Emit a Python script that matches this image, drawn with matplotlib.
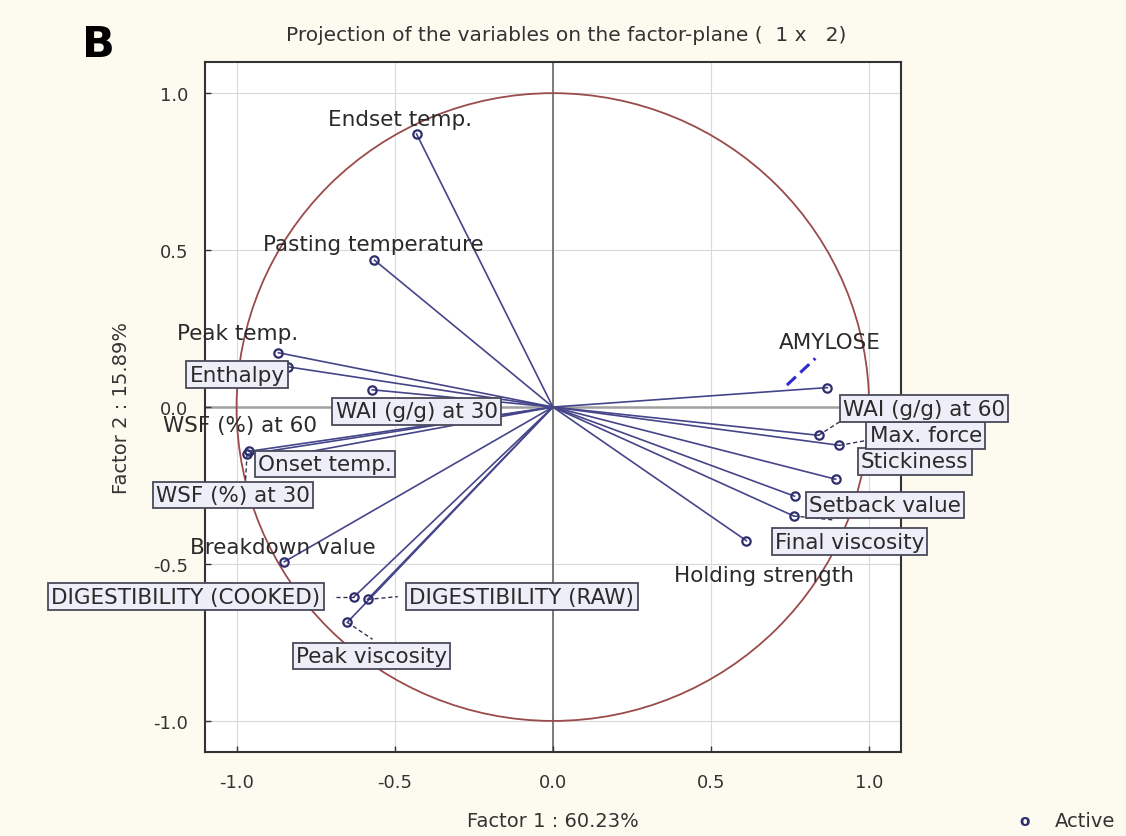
import numpy as np
import matplotlib
matplotlib.use("Agg")
import matplotlib.pyplot as plt
from matplotlib.patches import Circle

plt.rcParams['font.family'] = ['DejaVu Sans']

# ---- data (factor loadings) ----
variables = ["Endset temp.", "Pasting temperature", "Peak temp.", "Enthalpy",
             "WAI (g/g) at 30", "WSF (%) at 60", "WSF (%) at 30", "Onset temp.",
             "Breakdown value", "DIGESTIBILITY (COOKED)", "DIGESTIBILITY (RAW)",
             "Peak viscosity", "Holding strength", "Final viscosity", "Setback value",
             "Stickiness", "Max. force", "WAI (g/g) at 60", "AMYLOSE"]
factor1 = [-0.431, -0.564, -0.868, -0.837, -0.571, -0.960, -0.967, -0.865,
           -0.849, -0.628, -0.586, -0.650, 0.612, 0.761, 0.764, 0.894, 0.906,
           0.840, 0.868]
factor2 = [0.870, 0.468, 0.173, 0.128, 0.055, -0.141, -0.151, -0.160,
           -0.493, -0.604, -0.613, -0.686, -0.426, -0.347, -0.284, -0.230,
           -0.122, -0.090, 0.062]
xticks = [-1.0, -0.5, 0.0, 0.5, 1.0]
yticks = [-1.0, -0.5, 0.0, 0.5, 1.0]
factor1_pct = "60.23%"
factor2_pct = "15.89%"

# ---- label layout (data coords) ----
label_pos = {
    "Endset temp.": (-0.482, 0.918, False),
    "Pasting temperature": (-0.567, 0.521, False),
    "Peak temp.": (-0.998, 0.236, False),
    "Enthalpy": (-0.998, 0.103, True),
    "WAI (g/g) at 30": (-0.431, -0.014, True),
    "WSF (%) at 60": (-0.990, -0.058, False),
    "Onset temp.": (-0.720, -0.182, True),
    "WSF (%) at 30": (-1.011, -0.281, True),
    "Breakdown value": (-0.853, -0.445, False),
    "DIGESTIBILITY (COOKED)": (-1.160, -0.604, True),
    "DIGESTIBILITY (RAW)": (-0.098, -0.604, True),
    "Peak viscosity": (-0.574, -0.794, True),
    "Holding strength": (0.666, -0.534, False),
    "Final viscosity": (0.938, -0.429, True),
    "Setback value": (1.049, -0.312, True),
    "Stickiness": (1.144, -0.173, True),
    "Max. force": (1.179, -0.090, True),
    "WAI (g/g) at 60": (1.173, -0.005, True),
    "AMYLOSE": (0.875, 0.208, False),
}
leaders = {
    "WSF (%) at 30": (-0.972, -0.240),
    "Onset temp.": (-0.893, -0.165),
    "DIGESTIBILITY (COOKED)": (-0.695, -0.604),
    "DIGESTIBILITY (RAW)": (-0.490, -0.604),
    "Peak viscosity": (-0.570, -0.740),
    "Max. force": (1.000, -0.105),
    "WAI (g/g) at 60": (0.910, -0.045),
    "Final viscosity": (0.890, -0.360),
}

fig = plt.figure(figsize=(11.26, 8.37), dpi=100, facecolor='#fdfbef')
ax = fig.add_axes([0.182, 0.100, 0.618, 0.825])
ax.set_facecolor('white')
ax.set_xlim(-1.1, 1.1)
ax.set_ylim(-1.1, 1.1)

# grid
for t in xticks:
    ax.axvline(t, color='#d9d9d9', lw=0.8, zorder=0)
for t in yticks:
    ax.axhline(t, color='#d9d9d9', lw=0.8, zorder=0)
ax.axvline(0, color='#7a7a7a', lw=1.4, zorder=1)
ax.axhline(0, color='#a0a0a0', lw=1.8, zorder=1)

# unit circle
ax.add_patch(Circle((0, 0), 1.0, fill=False, ec='#9a4b4b', lw=1.3, zorder=2))

# vectors
for x, y in zip(factor1, factor2):
    ax.plot([0, x], [0, y], color='#45458a', lw=1.2, zorder=3)
ax.plot(factor1, factor2, 'o', ms=6, mfc='none', mec='#2e2e6e', mew=1.6, zorder=4)

# leaders
for name, (lx, ly) in leaders.items():
    i = variables.index(name)
    ax.plot([factor1[i], lx], [factor2[i], ly], color='#333355', lw=1.0,
            ls=(0, (3, 2)), zorder=3, clip_on=False)
# amylose dashed pointer
ax.plot([0.74, 0.83], [0.07, 0.155], color='#2b2bd0', lw=2.2, ls=(0, (4, 2)), zorder=3)

# labels
FS = 15.5
for name in variables:
    lx, ly, boxed = label_pos[name]
    kw = dict(ha='center', va='center', fontsize=FS, color='#2a2a2a', zorder=6)
    if boxed:
        kw['bbox'] = dict(boxstyle='square,pad=0.15', fc='#eeeef8', ec='#4a4a5a', lw=1.3)
    ax.text(lx, ly, name, **kw)

# ticks
ax.set_xticks(xticks)
ax.set_yticks(yticks)
ax.set_xticklabels([f"{t:.1f}" for t in xticks])
ax.set_yticklabels([f"{t:.1f}" for t in yticks])
ax.tick_params(axis='x', direction='in', length=4, width=1, colors='#333333', labelsize=13,
               labelcolor='#333333', pad=15)
ax.tick_params(axis='y', direction='in', length=4, width=1, colors='#333333', labelsize=13,
               labelcolor='#333333', pad=12)
for s in ax.spines.values():
    s.set_color('#333333')
    s.set_linewidth(1.5)

ax.set_xlabel(f"Factor 1 : {factor1_pct}", fontsize=14, color='#333333', labelpad=14)
ax.set_ylabel(f"Factor 2 : {factor2_pct}", fontsize=14, color='#333333', labelpad=16)

fig.text(0.503, 0.958, "Projection of the variables on the factor-plane (  1 x   2)",
         ha='center', va='center', fontsize=14.5, color='#333333')
fig.text(0.087, 0.946, "B", ha='center', va='center', fontsize=31, fontweight='bold',
         color='black', family='DejaVu Sans')

# legend
fig.text(0.910, 0.018, "o", ha='center', va='center', fontsize=11, color='#2e2e6e',
         fontweight='bold')
fig.text(0.990, 0.018, "Active", ha='right', va='center', fontsize=14, color='#333333')

fig.savefig("out.png", dpi=100, facecolor=fig.get_facecolor())
